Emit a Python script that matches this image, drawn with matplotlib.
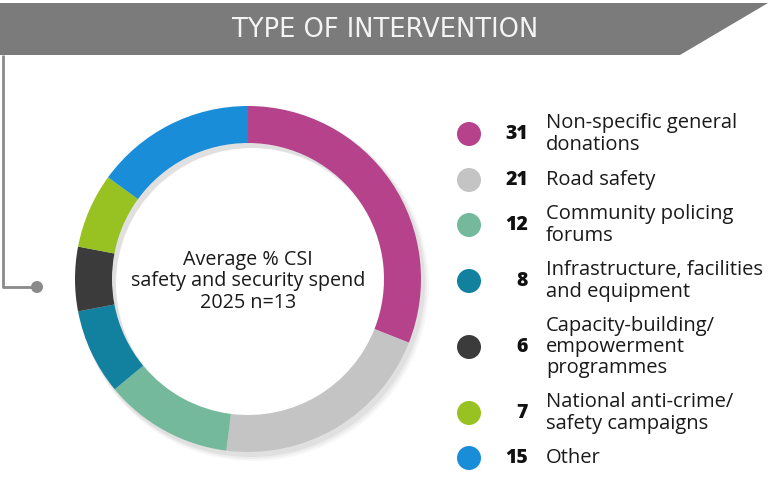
import matplotlib
matplotlib.use("Agg")
import matplotlib.pyplot as plt
from matplotlib.patches import Polygon, Circle, Wedge

# ---- data ----
categories = ["Non-specific general\ndonations", "Road safety", "Community policing\nforums",
              "Infrastructure, facilities\nand equipment",
              "Capacity-building/\nempowerment\nprogrammes",
              "National anti-crime/\nsafety campaigns", "Other"]
values = [31, 21, 12, 8, 6, 7, 15]
colors = ["#B5428A", "#C4C4C4", "#74B99B", "#12809F", "#3B3B3B", "#97C221", "#1A8DD9"]
title = "TYPE OF INTERVENTION"
center_text = "Average % CSI\nsafety and security spend\n2025 n=13"

W, H = 768, 497
fig = plt.figure(figsize=(W / 100, H / 100), dpi=100)
ax = fig.add_axes([0, 0, 1, 1])

def Y(y):
    return H - y

# donut shadow
cx, cy, R, width = 248, 279, 173, 37
for i, a in enumerate([0.05, 0.04, 0.03]):
    ax.add_patch(Wedge((cx + 3 + i, Y(cy) - 4 - i), R + 1 + i, 0, 360, width=width + 2,
                       facecolor="#000000", alpha=a, edgecolor="none"))

ax.pie(values, colors=colors, startangle=90, counterclock=False,
       center=(cx, Y(cy)), radius=R,
       wedgeprops=dict(width=width, edgecolor="none", linewidth=0), frame=True)

ax.text(cx, Y(cy + 2), center_text, ha="center", va="center", fontsize=14.2,
        family="Open Sans", color="#1a1a1a", linespacing=1.1)

# header banner
ax.add_patch(Polygon([(0, Y(3)), (768, Y(3)), (680, Y(55)), (0, Y(55))],
                     closed=True, facecolor="#7B7B7B", edgecolor="none"))
ax.text(385, Y(30), title, ha="center", va="center", fontsize=18.5,
        family=["Liberation Sans Narrow", "DejaVu Sans"], color="#F4F4F4")

# connector line
ax.plot([3, 3, 37], [Y(55), Y(287), Y(287)], color="#8A8A8A", lw=2, solid_capstyle="butt")
ax.add_patch(Circle((37, Y(287)), 6, facecolor="#8A8A8A", edgecolor="none"))

# legend
ys = [134, 180, 225, 281, 347, 413, 458]
for c, v, lab, y in zip(colors, values, categories, ys):
    ax.add_patch(Circle((469, Y(y)), 12, facecolor=c, edgecolor="none"))
    ax.text(528, Y(y), str(v), ha="right", va="center", fontsize=14,
            family="Open Sans", fontweight="heavy", color="#111111")
    ax.text(546, Y(y), lab, ha="left", va="center", fontsize=14.5,
            family="Open Sans", color="#1a1a1a", linespacing=1.07)

ax.set_xlim(0, W)
ax.set_ylim(0, H)
ax.set_aspect("auto")
ax.axis("off")
fig.savefig("out.png", dpi=100, facecolor="white")
